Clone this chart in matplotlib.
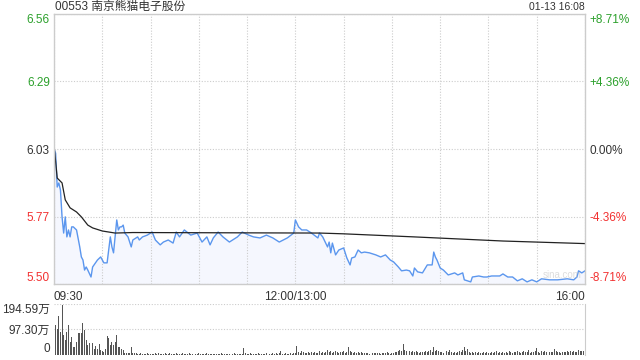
import numpy as np
import matplotlib
matplotlib.use("Agg")
import matplotlib.pyplot as plt

plt.rcParams['font.family'] = ['Liberation Sans', 'Noto Sans CJK SC', 'DejaVu Sans']

# 数据: 分钟序号 (09:30 = 0, 12:00/13:00 = 150, 16:00 = 330)
prev_close = 6.03
title = "00553 南京熊猫电子股份"
stamp = "01-13 16:08"

price_min = [0, 1, 2, 3, 4, 5, 6, 7, 8, 9, 10, 11, 12, 14, 16, 17, 18, 19, 20, 21,
             23, 24, 27, 29, 31, 33, 35, 36, 37, 38, 39, 40, 41, 42, 43, 44, 46, 48, 49, 52,
             53, 55, 58, 61, 63, 66, 68, 71, 74, 76, 78, 81, 85, 89, 92, 95, 97, 99, 102, 105,
             109, 114, 117, 121, 124, 128, 132, 136, 140, 145, 149, 150, 152, 154, 157, 160, 164, 165, 167, 170,
             171, 172, 173, 175, 177, 180, 182, 184, 185, 187, 189, 191, 193, 196, 200, 203, 206, 209, 211, 214,
             216, 219, 221, 223, 224, 226, 229, 232, 235, 236, 237, 238, 240, 242, 245, 247, 249, 251, 254, 255,
             259, 260, 264, 267, 269, 272, 277, 279, 282, 285, 288, 291, 294, 297, 300, 303, 308, 313, 319, 323,
             325, 326, 328, 330]
price = [6.030, 6.014, 5.882, 5.898, 5.871, 5.766, 5.703, 5.766, 5.688, 5.715, 5.688, 5.727, 5.727, 5.715, 5.649, 5.610, 5.598, 5.559, 5.571, 5.559,
         5.532, 5.571, 5.598, 5.610, 5.587, 5.587, 5.688, 5.649, 5.626, 5.688, 5.754, 5.715, 5.727, 5.727, 5.734, 5.703, 5.688, 5.649, 5.676, 5.688,
         5.676, 5.688, 5.695, 5.707, 5.676, 5.657, 5.668, 5.676, 5.664, 5.707, 5.688, 5.715, 5.695, 5.703, 5.668, 5.688, 5.657, 5.684, 5.707, 5.688,
         5.668, 5.688, 5.707, 5.695, 5.688, 5.684, 5.695, 5.684, 5.668, 5.684, 5.703, 5.754, 5.727, 5.715, 5.715, 5.703, 5.684, 5.703, 5.688, 5.649,
         5.668, 5.626, 5.664, 5.618, 5.637, 5.645, 5.606, 5.579, 5.606, 5.610, 5.637, 5.626, 5.629, 5.626, 5.618, 5.610, 5.618, 5.598, 5.591, 5.571,
         5.556, 5.559, 5.556, 5.536, 5.567, 5.552, 5.548, 5.579, 5.579, 5.629, 5.610, 5.598, 5.567, 5.559, 5.540, 5.544, 5.548, 5.540, 5.548, 5.521,
         5.513, 5.532, 5.536, 5.532, 5.532, 5.536, 5.536, 5.544, 5.532, 5.532, 5.517, 5.525, 5.513, 5.521, 5.513, 5.525, 5.521, 5.521, 5.525, 5.521,
         5.532, 5.556, 5.548, 5.556]

avg_min = [0, 2, 5, 7, 10, 14, 17, 21, 24, 30, 38, 49, 165, 180, 224, 279, 330]
avg_price = [6.046, 5.917, 5.898, 5.832, 5.801, 5.785, 5.766, 5.734, 5.723, 5.711, 5.703, 5.705, 5.703, 5.700, 5.688, 5.672, 5.662]

# 成交量 (万股), 每分钟一根
volume = [70, 114, 98, 149, 89, 191, 76, 57, 89, 114, 51, 70, 32, 32, 51, 83, 83, 85, 121, 95,
          57, 38, 47, 32, 47, 22, 34, 22, 42, 19, 15, 13, 22, 72, 64, 38, 51, 38, 51, 76,
          32, 29, 22, 19, 9, 8, 9, 9, 29, 8, 6,
          6, 5, 4, 6, 3, 5, 4, 7, 5, 4,
          3, 5, 6, 4, 9, 5, 4, 3, 6, 5,
          4, 6, 3, 5, 4, 7, 5, 3, 4, 6,
          5, 4, 3, 6, 4, 5, 3, 4, 5, 6,
          4, 3, 5, 4, 6, 3, 4, 5, 3, 4,
          5, 3, 4, 6, 4, 3, 5, 4, 3, 5,
          4, 6, 3, 4, 5, 3, 4, 26, 8, 5,
          4, 6, 5, 3, 4, 5, 6, 4, 3, 5,
          4, 6, 3, 5, 4, 7, 5, 8, 4, 6,
          16, 5, 4, 7, 3, 5, 9, 4, 6, 8,
          34, 12, 8, 15, 10, 6, 9, 12, 7, 10,
          8, 11, 6, 9, 14, 7, 10, 8, 12, 19,
          10, 14, 9, 12, 17, 11, 8, 13, 10, 15,
          9, 12, 30, 14, 10, 8, 12, 9, 11, 7,
          10, 8, 6, 9, 7, 5, 8, 6, 9, 7,
          6, 8, 5, 9, 7, 6, 10, 8, 5, 9,
          7, 12, 10, 15, 18, 14, 42, 20, 16, 13,
          17, 12, 15, 10, 14, 11, 9, 13, 10, 12,
          15, 11, 14, 18, 12, 29, 16, 20, 14, 10,
          12, 9, 11, 14, 10, 19, 13, 9, 11, 8,
          10, 14, 12, 18, 29, 15, 22, 12, 9, 11,
          7, 10, 8, 12, 9, 6, 10, 8, 11, 7,
          9, 12, 8, 10, 14, 9, 11, 7, 10, 8,
          12, 9, 15, 11, 8, 13, 10, 16, 12, 9,
          11, 14, 10, 12, 18, 9, 13, 11, 15, 26,
          12, 9, 14, 10, 16, 11, 8, 13, 10, 12,
          22, 14, 10, 12, 9, 11, 13, 10, 15, 12,
          14, 11, 16, 12, 13, 19, 14, 17, 15, 18]

pct_steps = [0.0871, 0.0436, 0.0, -0.0436, -0.0871]
price_labels = ["6.56", "6.29", "6.03", "5.77", "5.50"]
pct_labels = ["+8.71%", "+4.36%", "0.00%", "-4.36%", "-8.71%"]
vol_ticks = [0, 97.30, 194.59]
vol_labels = ["0", "97.30万", "194.59万"]
time_ticks = [0, 150, 330]
time_labels = ["09:30", "12:00/13:00", "16:00"]

GREEN = "#2ba02b"
RED = "#f23030"
DARK = "#333333"
GRID = "#cccccc"

fig = plt.figure(figsize=(6.4, 3.6), dpi=100)
ax = fig.add_axes([54 / 640, 1 - 284 / 360, 531 / 640, 270 / 360])
axv = fig.add_axes([54 / 640, 1 - 355 / 360, 531 / 640, 51 / 360])

lo = prev_close * (1 - 0.0871)
hi = prev_close * (1 + 0.0871)


def edge_align(labels):
    # 首尾标签收在框内 (标签按从高到低排列)
    labels[0].set_va("top")
    labels[-1].set_va("bottom")


# 价格线 + 浅色填充
ax.fill_between(price_min, price, lo, color="#f1f5fe", alpha=0.7, lw=0)
ax.plot(price_min, price, color="#5b96ee", lw=1.0)
ax.plot(avg_min, avg_price, color="#222222", lw=0.9)

ax.set_xlim(0, 330)
ax.set_ylim(lo, hi)
yt = [prev_close * (1 + p) for p in pct_steps]
ax.set_yticks(yt)
ax.set_yticklabels(price_labels)
ax.set_xticks(np.arange(0, 331, 30))
ax.set_xticklabels([])
ax.tick_params(length=0, labelsize=8.5, pad=3)
lbl_colors = [GREEN, GREEN, DARK, RED, RED]
for t, c in zip(ax.get_yticklabels(), lbl_colors):
    t.set_color(c)
edge_align(ax.get_yticklabels())
ax.grid(True, color=GRID, ls=(0, (1, 1.5)), lw=0.8)
for s in ax.spines.values():
    s.set_color(GRID)
    s.set_linewidth(1)

# 右侧涨跌幅
ax2 = ax.twinx()
ax2.set_ylim(lo, hi)
ax2.set_yticks(yt)
ax2.set_yticklabels(pct_labels)
ax2.tick_params(length=0, labelsize=8.5, pad=3)
for t, c in zip(ax2.get_yticklabels(), lbl_colors):
    t.set_color(c)
edge_align(ax2.get_yticklabels())
for s in ax2.spines.values():
    s.set_visible(False)

# 时间标签
for t, lab, ha in zip(time_ticks, time_labels, ["left", "center", "right"]):
    ax.text(t, -0.025, lab, transform=ax.get_xaxis_transform(), ha=ha, va="top",
            fontsize=8.5, color=DARK)

ax.text(328, 0.015, "sina.com", transform=ax.get_xaxis_transform(), ha="right",
        va="bottom", fontsize=7, color="#bbbbbb", alpha=0.5)

fig.text(55 / 640, 1 - 7 / 360, title, ha="left", va="center", fontsize=8.5, color=DARK)
fig.text(585 / 640, 1 - 7 / 360, stamp, ha="right", va="center", fontsize=7.5, color=DARK)

# 成交量
axv.bar(np.arange(len(volume)), volume, width=0.6, color="#555555")
axv.set_xlim(0, 330)
axv.set_ylim(0, 194.59)
axv.set_yticks(vol_ticks)
axv.set_yticklabels(vol_labels)
axv.set_xticks([])
axv.tick_params(length=0, labelsize=8.5, pad=3, labelcolor=DARK)
vl = axv.get_yticklabels()
vl[0].set_va("bottom")
vl[-1].set_va("top")
axv.yaxis.grid(True, color=GRID, ls=(0, (1, 1.5)), lw=0.8)
axv.set_axisbelow(True)
for k in ["left", "bottom", "top"]:
    axv.spines[k].set_visible(False)
axv.spines["right"].set_color(GRID)

fig.savefig("out.png", dpi=100)
